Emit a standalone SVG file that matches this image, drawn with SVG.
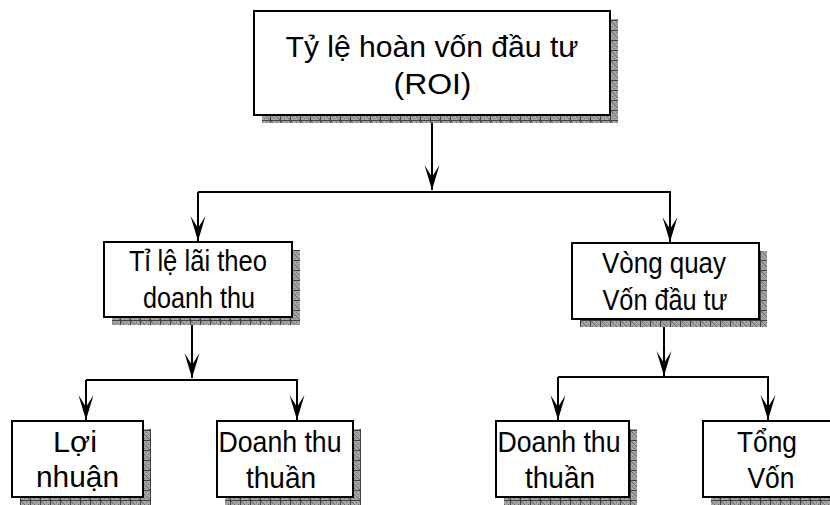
<svg xmlns="http://www.w3.org/2000/svg" width="830" height="505" viewBox="0 0 830 505">
<style>
.box{fill:#fff;stroke:#000;stroke-width:2}
.sh{fill:url(#shade)}
.t{font-family:"Liberation Sans",Arial,sans-serif;fill:#000;text-anchor:middle}
.m{font-size:29px}
.c{fill:none;stroke:#000;stroke-width:2}
</style>
<defs>
<pattern id="shade" patternUnits="userSpaceOnUse" width="10" height="10">
<rect width="10" height="10" fill="#a4a4a4"/>
<path d="M0 0h1v1h-1zM2 2h1v1h-1zM4 0h1v1h-1zM6 2h1v1h-1zM8 0h1v1h-1zM0 4h1v1h-1zM2 6h1v1h-1zM4 4h1v1h-1zM6 6h1v1h-1zM8 4h1v1h-1zM0 8h1v1h-1zM4 8h1v1h-1zM8 8h1v1h-1zM1 1h1v1h-1zM5 5h1v1h-1zM3 3h1v1h-1zM7 7h1v1h-1zM9 9h1v1h-1z" fill="#6a6a6a"/>
<path d="M0.5 0V10M0 0.5H10" stroke="#404040" stroke-width="1"/>
</pattern>
<marker id="ah" markerUnits="userSpaceOnUse" markerWidth="30" markerHeight="30" viewBox="-26 -10 30 20" refX="0" refY="0" orient="auto">
<path d="M0 0L-25 -7.5L-13 0L-25 7.5Z" fill="#000"/>
</marker>
</defs>

<g id="connectors">
<path class="c" d="M432 123V190" marker-end="url(#ah)"/>
<path class="c" d="M198 192H670V242" marker-end="url(#ah)"/>
<path class="c" d="M198 192V241" marker-end="url(#ah)"/>
<path class="c" d="M192 323V378" marker-end="url(#ah)"/>
<path class="c" d="M86 380H297V420" marker-end="url(#ah)"/>
<path class="c" d="M86 380V420" marker-end="url(#ah)"/>
<path class="c" d="M664 327V376" marker-end="url(#ah)"/>
<path class="c" d="M558 377H768V420" marker-end="url(#ah)"/>
<path class="c" d="M558 377V420" marker-end="url(#ah)"/>
</g>

<g id="roi">
<rect class="sh" x="262" y="19" width="356" height="104"/>
<rect class="box" x="254" y="11" width="356" height="104"/>
<text class="t" x="432" y="57" font-size="30" textLength="293" lengthAdjust="spacingAndGlyphs">Tỷ lệ hoàn vốn đầu tư</text>
<text class="t" x="432.5" y="94" font-size="30" textLength="78" lengthAdjust="spacingAndGlyphs">(ROI)</text>
</g>

<g id="tile-lai">
<rect class="sh" x="112" y="250" width="188" height="75"/>
<rect class="box" x="104" y="242" width="188" height="75"/>
<text class="t m" x="198" y="271" textLength="138" lengthAdjust="spacingAndGlyphs">Tỉ lệ lãi theo</text>
<text class="t m" x="199" y="308" textLength="112" lengthAdjust="spacingAndGlyphs">doanh thu</text>
</g>

<g id="vong-quay">
<rect class="sh" x="580" y="251" width="187" height="76"/>
<rect class="box" x="572" y="243" width="187" height="76"/>
<text class="t m" x="664" y="273" textLength="124" lengthAdjust="spacingAndGlyphs">Vòng quay</text>
<text class="t m" x="665" y="310" textLength="125" lengthAdjust="spacingAndGlyphs">Vốn đầu tư</text>
</g>

<g id="loi-nhuan">
<rect class="sh" x="20" y="429" width="131" height="76"/>
<rect class="box" x="12" y="421" width="131" height="76"/>
<text class="t" x="75" y="452" font-size="29" textLength="44" lengthAdjust="spacingAndGlyphs">Lợi</text>
<text class="t" x="77.5" y="487" font-size="30" textLength="83" lengthAdjust="spacingAndGlyphs">nhuận</text>
</g>

<g id="doanh-thu-1">
<rect class="sh" x="225" y="429" width="136" height="76"/>
<rect class="box" x="217" y="421" width="136" height="76"/>
<text class="t m" x="280" y="452" textLength="123" lengthAdjust="spacingAndGlyphs">Doanh thu</text>
<text class="t m" x="281" y="488" textLength="70" lengthAdjust="spacingAndGlyphs">thuần</text>
</g>

<g id="doanh-thu-2">
<rect class="sh" x="504" y="429" width="133" height="76"/>
<rect class="box" x="496" y="421" width="133" height="76"/>
<text class="t m" x="559" y="452" textLength="123" lengthAdjust="spacingAndGlyphs">Doanh thu</text>
<text class="t m" x="560" y="488" textLength="70" lengthAdjust="spacingAndGlyphs">thuần</text>
</g>

<g id="tong-von">
<rect class="sh" x="711" y="429" width="133" height="76"/>
<rect class="box" x="703" y="421" width="133" height="76"/>
<text class="t m" x="767" y="452" textLength="60" lengthAdjust="spacingAndGlyphs">Tổng</text>
<text class="t m" x="771" y="488" textLength="47" lengthAdjust="spacingAndGlyphs">Vốn</text>
</g>
</svg>
